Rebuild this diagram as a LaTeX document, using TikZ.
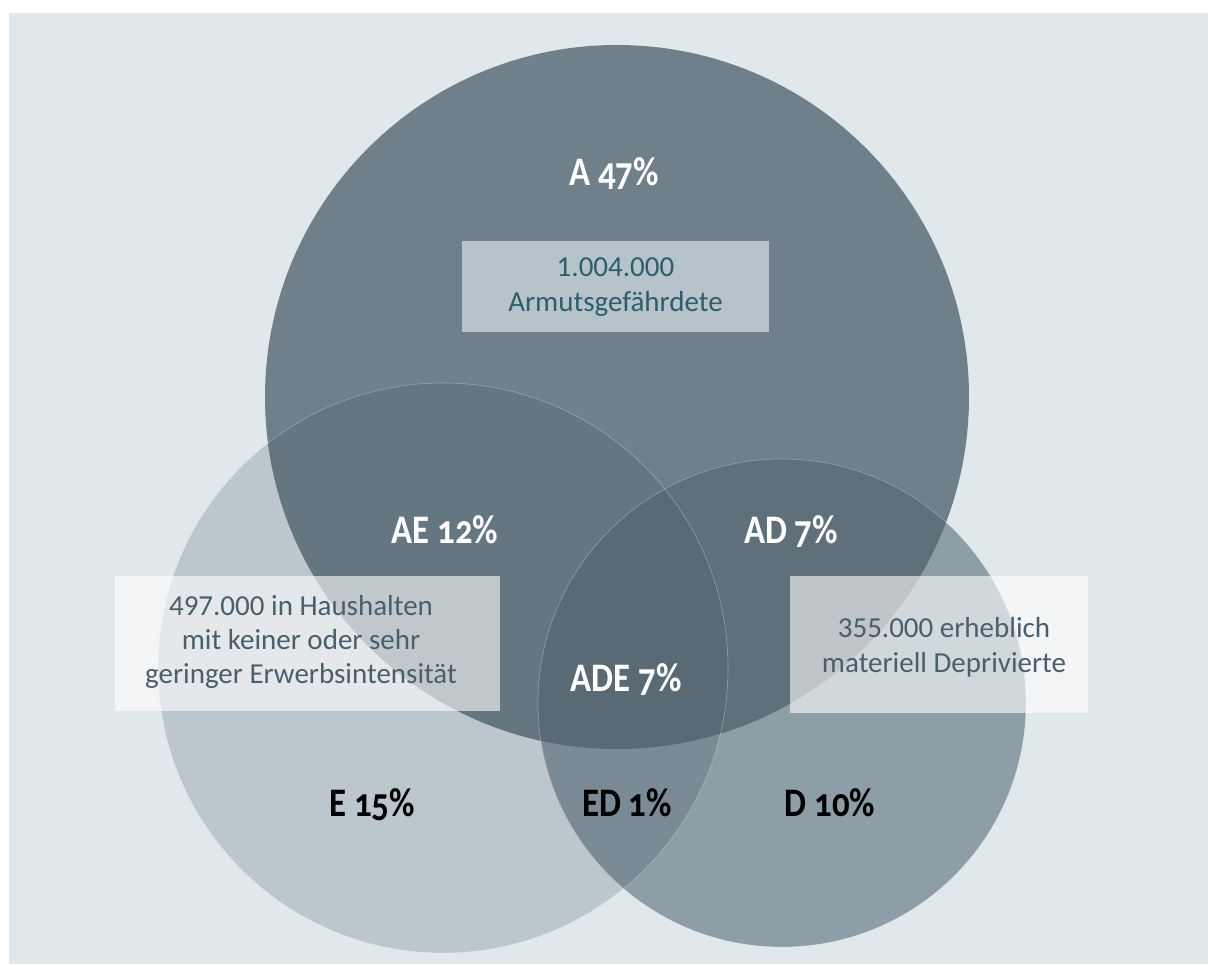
\documentclass[tikz,border=0pt]{standalone}
\usepackage{fontspec}
\setmainfont{Carlito}
\newfontfamily\labfont{Carlito}[Numbers=OldStyle, FakeStretch=0.86]
\definecolor{panelbg}{HTML}{E1E8EB}
\definecolor{colA}{HTML}{6F808A}
\definecolor{colE}{HTML}{BCC7CD}
\definecolor{colD}{HTML}{8D9EA6}
\definecolor{colAE}{HTML}{647781}
\definecolor{colAD}{HTML}{5F707A}
\definecolor{colADE}{HTML}{5A6A74}
\definecolor{colED}{HTML}{7A8B95}
\definecolor{boxA}{HTML}{B6C3CA}
\definecolor{txtA}{HTML}{2D5E69}
\definecolor{txtB}{HTML}{4A5E6B}
\begin{document}
\begin{tikzpicture}[x=1pt,y=-1pt,
  rim/.style={draw=white, draw opacity=0.3, line width=0.6pt},
  bodytxt/.style={anchor=base, inner sep=0pt, font=\fontsize{29}{34}\selectfont},
  setlab/.style={anchor=base, inner sep=0pt, font=\labfont\bfseries\fontsize{40.5}{44}\selectfont}]
\useasboundingbox (0,0) rectangle (1208,965);
\fill[white] (0,0) rectangle (1208,965);
\fill[panelbg] (9,13) rectangle (1208,964);

% circle centres
\coordinate (cA) at (617,397);
\coordinate (cE) at (443,668);
\coordinate (cD) at (782,703);

% single sets
\fill[colE] (cE) circle[radius=285pt];
\fill[colD] (cD) circle[radius=244pt];
\fill[colA] (cA) circle[radius=352pt];
% pairwise overlaps
\begin{scope}
  \clip (cE) circle[radius=285pt];
  \fill[colAE] (cA) circle[radius=352pt];
\end{scope}
\begin{scope}
  \clip (cD) circle[radius=244pt];
  \fill[colAD] (cA) circle[radius=352pt];
\end{scope}
\begin{scope}
  \clip (cE) circle[radius=285pt];
  \fill[colED] (cD) circle[radius=244pt];
\end{scope}
% triple overlap
\begin{scope}
  \clip (cE) circle[radius=285pt];
  \clip (cD) circle[radius=244pt];
  \fill[colADE] (cA) circle[radius=352pt];
\end{scope}
% faint rims
\draw[rim] (cE) circle[radius=285pt];
\draw[rim] (cD) circle[radius=244pt];

% information boxes
\fill[boxA] (462,241) rectangle (769,332);
\fill[white, opacity=0.6] (115,576) rectangle (500,711);
\fill[white, opacity=0.6] (790,576) rectangle (1088,713);

\node[bodytxt, text=txtA] (a1) at (615.5,277) {1.004.000};
\node[bodytxt, text=txtA] (a2) at (615.5,312) {Armutsgefährdete};

\node[bodytxt, text=txtB] (e1) at (301,615) {497.000 in Haushalten};
\node[bodytxt, text=txtB] (e2) at (301,649) {mit keiner oder sehr};
\node[bodytxt, text=txtB] (e3) at (301,683) {geringer Erwerbsintensität};

\node[bodytxt, text=txtB] (d1) at (944,637) {355.000 erheblich};
\node[bodytxt, text=txtB] (d2) at (944,672) {materiell Deprivierte};

% set labels
\node[setlab, text=white] (lA) at (614,186) {A 47\%};
\node[setlab, text=white] (lAE) at (445,543) {AE 12\%};
\node[setlab, text=white] (lAD) at (791,543) {AD 7\%};
\node[setlab, text=white] (lADE) at (626,691) {ADE 7\%};
\node[setlab, text=black] (lE) at (372,816) {E 15\%};
\node[setlab, text=black] (lED) at (627,816) {ED 1\%};
\node[setlab, text=black] (lD) at (830,816) {D 10\%};
\end{tikzpicture}
\end{document}
